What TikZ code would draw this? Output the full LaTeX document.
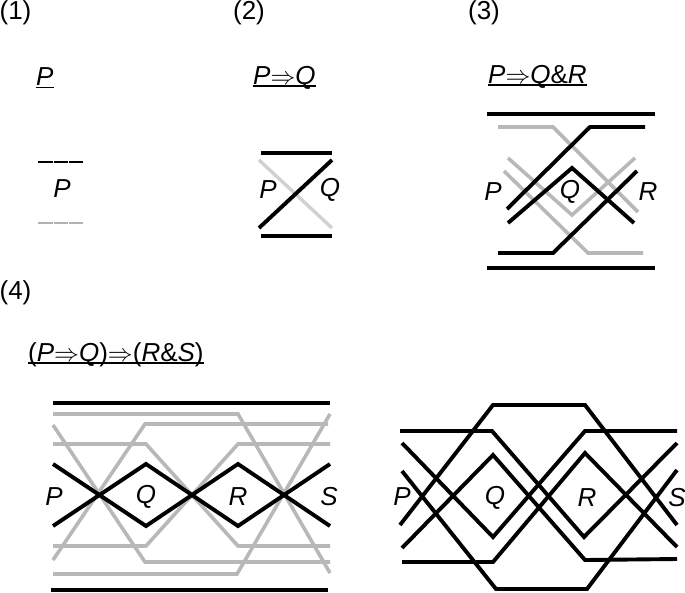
\documentclass[tikz,border=0pt]{standalone}
\usepackage{fontspec}
\setmainfont{Liberation Sans}
\newcommand{\ar}{\ensuremath{\Rightarrow}}
\tikzset{
  lbl/.style={inner sep=0pt,font=\fontsize{26}{28}\selectfont\itshape},
  num/.style={inner sep=0pt,font=\fontsize{26}{28}\selectfont},
  ttl/.style={inner sep=0pt,anchor=base west,font=\fontsize{26}{28}\selectfont\itshape},
  uline/.style={draw=black,line width=1.6pt},
  blk/.style={draw=black,line width=3.9pt,line join=miter},
  gry/.style={draw=black!28,line width=3.6pt,line join=miter},
  lgry/.style={draw=black!18,line width=3.4pt},
  bar/.style={draw=black,line width=4pt},
  seg/.style={line width=2.9pt},
}
\begin{document}
\begin{tikzpicture}[x=1pt,y=-1pt]
\useasboundingbox (0,0) rectangle (685,592);
% numbers
\node[num] (n1) at (15.5,13) {(1)};
\node[num] (n2) at (249,13) {(2)};
\node[num] (n3) at (484,13) {(3)};
\node[num] (n4) at (15.5,293) {(4)};
% titles
\node[ttl] (t1) at (36,85) {P};
\node[ttl] (t2) at (253,84) {P\ar Q};
\node[ttl] (t3) at (488,83) {P\ar Q{\upshape\&}R};
\node[ttl] (t4) at (28,361) {{\upshape(}P\ar Q{\upshape)}\ar{\upshape(}R{\upshape\&}S{\upshape)}};
\draw[uline] ([yshift=-2.6pt]t1.base west) -- ([yshift=-2.6pt]t1.base east);
\draw[uline] ([yshift=-2pt]t2.base west) -- ([yshift=-2pt]t2.base east);
\draw[uline] ([yshift=-2pt]t3.base west) -- ([yshift=-2pt]t3.base east);
\draw[uline] ([yshift=-2pt]t4.base west) -- ([yshift=-2pt]t4.base east);
% panel 1
\draw[draw=black,seg] (38,162) -- (53,162) (53.7,162) -- (68,162) (68.7,162) -- (83,162);
\draw[draw=black!30,seg] (38,223) -- (53,223) (53.7,223) -- (68,223) (68.7,223) -- (83,223);
\node[lbl] (p1) at (62,189) {P};
% panel 2
\draw[bar] (261,153) -- (332,153);
\draw[bar] (261,236) -- (332,236);
\draw[lgry] (259,160) -- (332,228);
\draw[blk] (259,228) -- (332,160);
\node[lbl] (p2) at (268,190) {P};
\node[lbl] (q2) at (330,190) {Q};
% panel 3
\draw[bar] (487,114) -- (655,114);
\draw[bar] (487,268) -- (655,268);
\draw[gry] (498,127) -- (553,127) -- (638,212);
\draw[gry] (508,158) -- (572,215) -- (635,158);
\draw[gry] (504,171) -- (588,253) -- (643,253);
\draw[blk] (507,209) -- (590,127) -- (645,127);
\draw[blk] (508,223) -- (572,168) -- (634,223);
\draw[blk] (498,253) -- (553,253) -- (637,171);
\node[lbl] (p3) at (493,192) {P};
\node[lbl] (q3) at (570,192) {Q};
\node[lbl] (r3) at (648,192) {R};
% panel 4 left
\draw[bar] (53,403) -- (330,403);
\draw[bar] (51,590) -- (328,590);
\draw[gry] (53,414) -- (238,414) -- (330,573);
\draw[gry] (53,560) -- (145,424) -- (328,424);
\draw[gry] (53,425) -- (145,562) -- (330,562);
\draw[gry] (53,444) -- (146,444) -- (238,546) -- (330,546);
\draw[gry] (53,546) -- (146,546) -- (238,444) -- (330,444);
\draw[gry] (53,574) -- (237,574) -- (330,414);
\draw[blk] (53,464) -- (146,526) -- (238,464) -- (330,526);
\draw[blk] (53,526) -- (146,464) -- (238,526) -- (330,464);
\node[lbl] (p4) at (54,497) {P};
\node[lbl] (q4) at (146,497) {Q};
\node[lbl] (r4) at (238,497) {R};
\node[lbl] (s4) at (329,497) {S};
% panel 4 right
\draw[blk] (400,525) -- (493,405) -- (585,405) -- (677,525);
\draw[blk] (400,431) -- (492,431) -- (584,537) -- (677,443);
\draw[blk] (402,548) -- (493,455) -- (585,560) -- (677,559);
\draw[blk] (402,443) -- (493,537) -- (585,431) -- (677,431);
\draw[blk] (402,562) -- (493,562) -- (585,453) -- (677,547);
\draw[blk] (402,471) -- (496,589) -- (587,589) -- (677,470);
\node[lbl] (p5) at (402,497) {P};
\node[lbl] (q5) at (495,498) {Q};
\node[lbl] (r5) at (587,498) {R};
\node[lbl] (s5) at (677,498) {S};
\end{tikzpicture}
\end{document}
